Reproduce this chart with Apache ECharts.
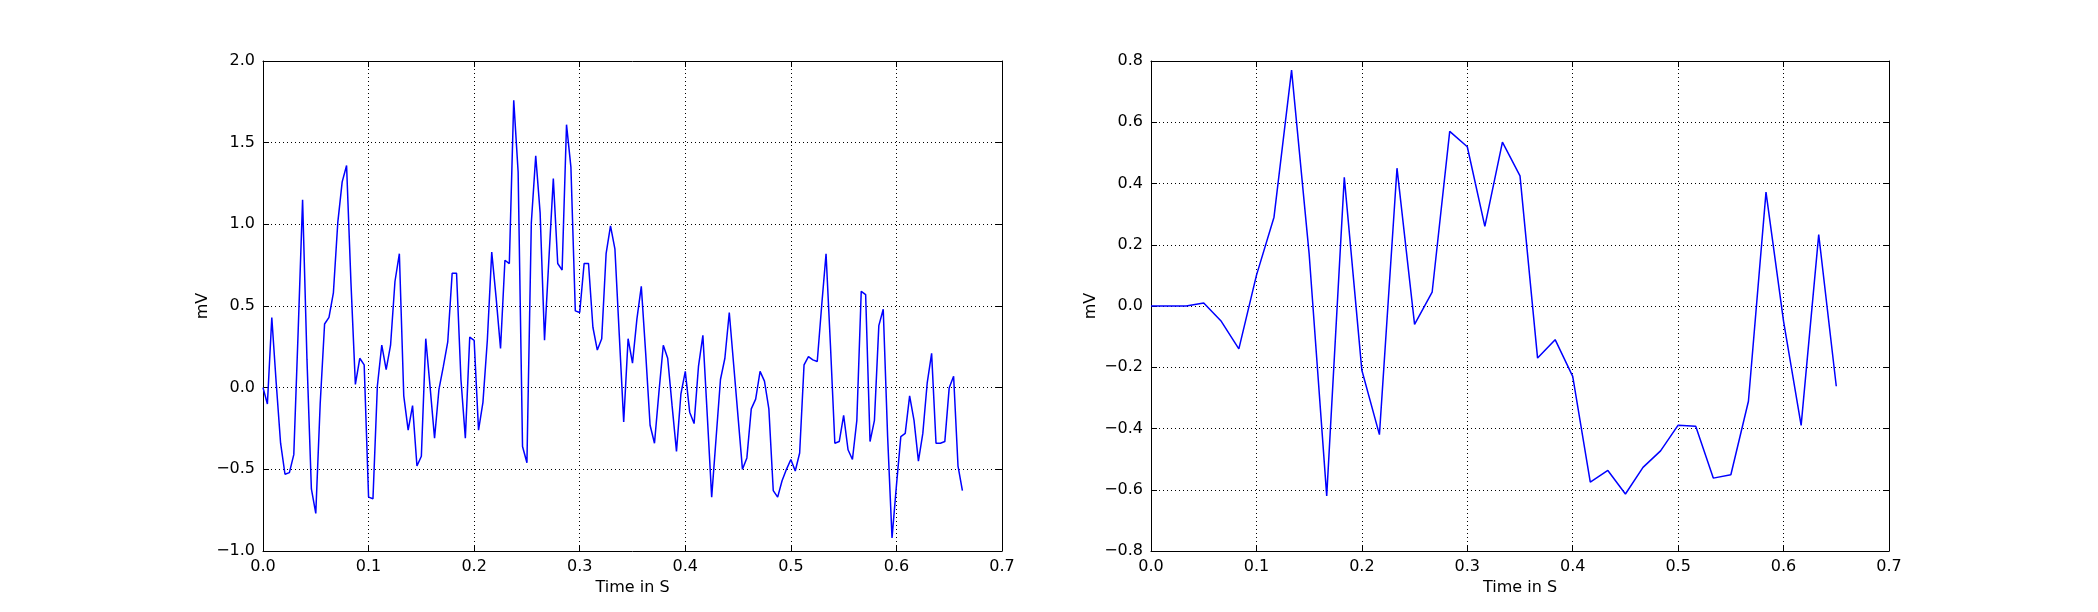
<!doctype html>
<html><head><meta charset="utf-8" />
<style>
  html,body,#app{margin:0;padding:0;width:2098px;height:612px;background:#ffffff}
</style>
<script src="https://cdn.jsdelivr.net/npm/echarts@6.0.0/dist/echarts.min.js"></script>
</head><body><div id="app"></div>
<script>
// left panel: one sample every 1/240 s
const leftStep = 1 / 240;
const leftMv = [
  0.00, -0.10, 0.43, 0.03, -0.34, -0.53, -0.52, -0.41, 0.35, 1.15,
  0.17, -0.62, -0.77, -0.10, 0.39, 0.43, 0.58, 1.01, 1.26, 1.36,
  0.64, 0.02, 0.18, 0.14, -0.67, -0.68, 0.01, 0.26, 0.11, 0.26,
  0.65, 0.82, -0.05, -0.26, -0.11, -0.48, -0.42, 0.30, 0.00, -0.31,
  -0.01, 0.13, 0.28, 0.70, 0.70, 0.05, -0.31, 0.31, 0.29, -0.26,
  -0.09, 0.29, 0.83, 0.55, 0.24, 0.78, 0.76, 1.76, 1.32, -0.36,
  -0.46, 1.01, 1.42, 1.07, 0.29, 0.79, 1.28, 0.76, 0.72, 1.61,
  1.35, 0.47, 0.46, 0.76, 0.76, 0.37, 0.23, 0.30, 0.82, 0.99,
  0.85, 0.32, -0.21, 0.30, 0.15, 0.42, 0.62, 0.21, -0.23, -0.34,
  -0.03, 0.26, 0.18, -0.11, -0.39, -0.04, 0.10, -0.15, -0.22, 0.13,
  0.32, -0.17, -0.67, -0.31, 0.05, 0.18, 0.46, 0.14, -0.18, -0.50,
  -0.43, -0.13, -0.07, 0.10, 0.04, -0.13, -0.63, -0.67, -0.57, -0.50,
  -0.44, -0.51, -0.40, 0.14, 0.19, 0.17, 0.16, 0.50, 0.82, 0.26,
  -0.34, -0.33, -0.17, -0.38, -0.44, -0.20, 0.59, 0.57, -0.33, -0.20,
  0.38, 0.48, -0.30, -0.92, -0.60, -0.30, -0.28, -0.05, -0.20, -0.45,
  -0.28, 0.03, 0.21, -0.34, -0.34, -0.33, 0.00, 0.07, -0.48, -0.63
];
// right panel: one sample every 1/60 s
const rightStep = 1 / 60;
const rightMv = [
  0.00, 0.00, 0.00, 0.01, -0.05, -0.14, 0.10, 0.29, 0.77, 0.17,
  -0.62, 0.42, -0.21, -0.42, 0.45, -0.06, 0.045, 0.57, 0.52, 0.26,
  0.535, 0.425, -0.17, -0.11, -0.23, -0.575, -0.537, -0.614, -0.527, -0.473,
  -0.389, -0.393, -0.562, -0.551, -0.311, 0.372, -0.05, -0.39, 0.233, -0.262
];
const xTicks = [0, 0.7, 0.1];          // min, max, interval
const leftYTicks = [-1, 2, 0.5];
const rightYTicks = [-0.8, 0.8, 0.2];
const xTitle = 'Time in S';
const yTitle = 'mV';

const font = 'DejaVu Sans';
const fmt = v => { const s = Number(v).toFixed(1); return s.replace('-', '\u2212'); };
const pairs = (vals, step) => vals.map((v, i) => [i * step, v]);

function xAxes(gi) {
  const base = { gridIndex: gi, type: 'value', min: xTicks[0], max: xTicks[1], interval: xTicks[2],
    axisLine: { show: true, onZero: false, lineStyle: { color: '#000', width: 1 } },
    axisTick: { show: true, inside: true, length: 6, lineStyle: { color: '#000' } } };
  return [
    Object.assign({}, base, { position: 'bottom', name: xTitle, nameLocation: 'middle', nameGap: 26,
      nameTextStyle: { color: '#000', fontSize: 16, fontFamily: font },
      axisLabel: { color: '#000', fontSize: 16, fontFamily: font, margin: 8, formatter: fmt },
      splitLine: { show: true, lineStyle: { color: '#000', width: 1, type: [1, 3] } } }),
    Object.assign({}, base, { position: 'top', axisLabel: { show: false }, splitLine: { show: false } })
  ];
}
function yAxes(gi, t) {
  const base = { gridIndex: gi, type: 'value', min: t[0], max: t[1], interval: t[2],
    axisLine: { show: true, onZero: false, lineStyle: { color: '#000', width: 1 } },
    axisTick: { show: true, inside: true, length: 6, lineStyle: { color: '#000' } } };
  return [
    Object.assign({}, base, { position: 'left', name: yTitle, nameLocation: 'middle', nameGap: 52,
      nameTextStyle: { color: '#000', fontSize: 16, fontFamily: font },
      axisLabel: { color: '#000', fontSize: 16, fontFamily: font, margin: 8, formatter: fmt },
      splitLine: { show: true, lineStyle: { color: '#000', width: 1, type: [1, 3] } } }),
    Object.assign({}, base, { position: 'right', axisLabel: { show: false }, splitLine: { show: false } })
  ];
}

const chart = echarts.init(document.getElementById('app'), null, { renderer: 'canvas' });
chart.setOption({
  backgroundColor: '#ffffff',
  animation: false,
  grid: [
    { left: 263, top: 61, width: 739, height: 490 },
    { left: 1151, top: 61, width: 738, height: 490 }
  ],
  xAxis: xAxes(0).concat(xAxes(1)),
  yAxis: yAxes(0, leftYTicks).concat(yAxes(1, rightYTicks)),
  series: [
    { type: 'line', xAxisIndex: 0, yAxisIndex: 0, data: pairs(leftMv, leftStep), symbol: 'none',
      lineStyle: { color: '#0000ff', width: 1.5 } },
    { type: 'line', xAxisIndex: 2, yAxisIndex: 2, data: pairs(rightMv, rightStep), symbol: 'none',
      lineStyle: { color: '#0000ff', width: 1.5 } }
  ]
});
</script></body></html>
